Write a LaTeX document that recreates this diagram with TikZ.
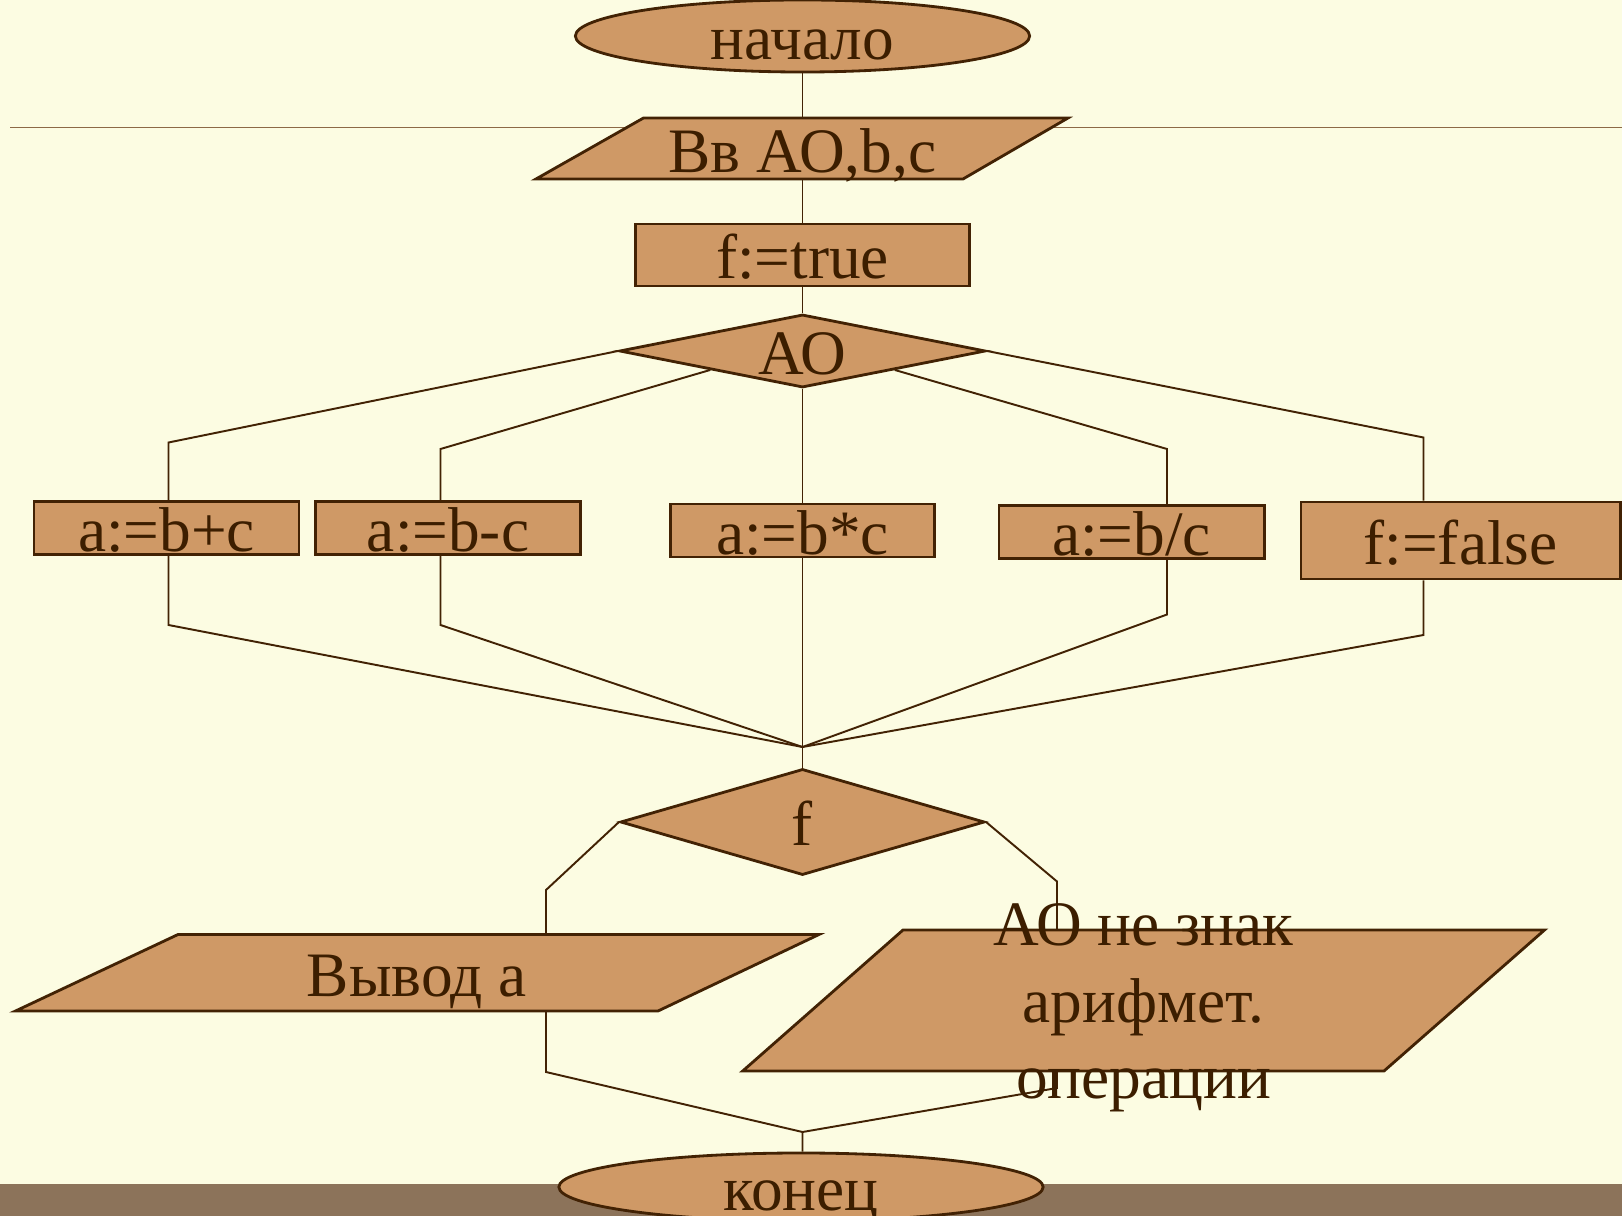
\documentclass[tikz,border=0pt]{standalone}
\usepackage{fontspec}
\setmainfont{Liberation Serif}
\usetikzlibrary{shapes.geometric}

\definecolor{bgC}{RGB}{252,252,226}
\definecolor{bandC}{RGB}{140,115,90}
\definecolor{boxC}{RGB}{207,153,102}
\definecolor{lineC}{RGB}{66,34,4}
\definecolor{txtC}{RGB}{60,30,0}
\definecolor{hlC}{RGB}{140,105,70}

\tikzset{
  blk/.style={draw=lineC, fill=boxC, line width=0.8pt, inner sep=0pt,
    text=txtC, text height=0.47cm, text depth=0pt},
  rbox/.style={blk, rectangle},
  oval/.style={blk, ellipse},
  cond/.style={blk, diamond},
  slant/.style={draw=lineC, fill=boxC, line width=0.8pt},
  lbl/.style={inner sep=0pt, text=txtC, text height=0.47cm, text depth=0pt},
  lnk/.style={draw=lineC, line width=0.55pt},
}

\begin{document}
\begin{tikzpicture}[x=0.01cm, y=-0.01cm, font=\fontsize{18pt}{21.8pt}\selectfont]
                \useasboundingbox (0,0) rectangle (1622,1216);
                \fill[bgC] (0,0) rectangle (1622,1216);
                \fill[bandC] (0,1184) rectangle (1622,1216);
                \draw[hlC, line width=0.5pt] (10,127.5) -- (1622,127.5);

                % blocks
                \node[oval, minimum width=4.54cm, minimum height=0.72cm] (start) at (802.5,36) {начало};
                \coordinate (intl) at (643.5,118);
                \coordinate (inbl) at (536,179);
                \filldraw[slant] (inbl) -- (intl) -- (1068,118) -- (963,179) -- cycle;
                \node[lbl] (inp) at (802.5,149) {Вв АО,b,c};
                \node[rbox, minimum width=3.34cm, minimum height=0.62cm] (ftrue) at (802.5,255) {f:=true};
                \node[cond, aspect=5, minimum width=3.66cm, minimum height=0.73cm] (ao) at (802.5,351) {АО};

                \node[rbox, minimum width=2.65cm, minimum height=0.53cm] (b1) at (166.5,528) {a:=b+c};
                \node[rbox, minimum width=2.65cm, minimum height=0.53cm] (b2) at (448,528) {a:=b-c};
                \node[rbox, minimum width=2.64cm, minimum height=0.53cm] (b3) at (802.5,530.5) {a:=b*c};
                \node[rbox, minimum width=2.65cm, minimum height=0.53cm] (b4) at (1131.5,532) {a:=b/c};
                \node[rbox, minimum width=3.19cm, minimum height=0.77cm] (b5) at (1460.5,540.5) {f:=false};

                \node[cond, aspect=3.4, minimum width=3.64cm, minimum height=1.06cm] (fc) at (802.5,822) {f};

                \coordinate (outtl) at (178,934.5);
                \coordinate (outbl) at (15.5,1011);
                \filldraw[slant] (outbl) -- (outtl) -- (819,934.5) -- (658,1011) -- cycle;
                \node[lbl] (outp) at (417,973) {Вывод а};

                \coordinate (errtl) at (903,930);
                \coordinate (errbl) at (742.7,1071);
                \filldraw[slant] (errbl) -- (errtl) -- (1544.5,930) -- (1384,1071) -- cycle;

                \node[oval, minimum width=4.84cm, minimum height=0.68cm] (finish) at (801,1187) {конец};

                % connectors
                \draw[lnk] (start.south) -- (start.south |- intl);
                \draw[lnk] (inp.center |- inbl) -- (ftrue.north);
                \draw[lnk] (ftrue.south) -- (ao.north);

                \coordinate (k1) at (168.5,442.5);
                \coordinate (k2) at (440.5,449);
                \coordinate (k4) at (1167,449);
                \coordinate (k5) at (1423.5,437.5);
                \draw[lnk] (ao.west) -- (k1) -- (k1 |- b1.north);
                \draw[lnk] (ao.south west) -- (k2) -- (k2 |- b2.north);
                \draw[lnk] (ao.south) -- (b3.north);
                \draw[lnk] (ao.south east) -- (k4) -- (k4 |- b4.north);
                \draw[lnk] (ao.east) -- (k5) -- (k5 |- b5.north);

                \coordinate (m1) at (168.5,625);
                \coordinate (m2) at (440.5,625);
                \coordinate (m4) at (1167,614.5);
                \coordinate (m5) at (1423.5,635);
                \coordinate (join) at (802.5,747);
                \draw[lnk] (k1 |- b1.south) -- (m1) -- (join);
                \draw[lnk] (k2 |- b2.south) -- (m2) -- (join);
                \draw[lnk] (k4 |- b4.south) -- (m4) -- (join);
                \draw[lnk] (k5 |- b5.south) -- (m5) -- (join);
                \draw[lnk] (b3.south) -- (join) -- (fc.north);

                \coordinate (y1) at (546,890);
                \coordinate (n1) at (1057,881.5);
                \draw[lnk] (fc.west) -- (y1) -- (y1 |- outtl);
                \draw[lnk] (fc.east) -- (n1) -- (n1 |- errtl);

                \coordinate (z1) at (546,1072);
                \coordinate (z2) at (1057,1088);
                \coordinate (join2) at (802.5,1132);
                \draw[lnk] (y1 |- outbl) -- (z1) -- (join2) -- (join2 |- finish.north);
                \draw[lnk] (n1 |- errbl) -- (z2) -- (join2);

                \node[inner sep=0pt, text=txtC, align=center] (errt) at (1143.5,1008)
                    {АО не знак\\арифмет.\\операции};
            \end{tikzpicture}
\end{document}
